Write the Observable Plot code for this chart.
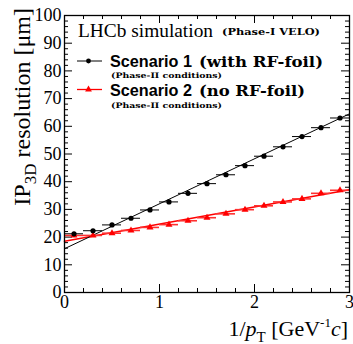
<!DOCTYPE html>
<html><head><meta charset="utf-8">
<script src="https://cdn.jsdelivr.net/npm/d3@7"></script>
<script src="https://cdn.jsdelivr.net/npm/@observablehq/plot@0.6"></script>
<style>html,body{margin:0;padding:0;background:#fff;} #chart{width:353px;height:344px;overflow:hidden;}</style>
</head><body><div id="chart"></div>
<script>
// ---- data ----
const invPt = [0.1, 0.3, 0.5, 0.7, 0.9, 1.1, 1.3, 1.5, 1.7, 1.9, 2.1, 2.3, 2.5, 2.7, 2.9];
const binHalfWidth = 0.1;
const scenario1 = [21.2, 22.3, 24.4, 26.8, 29.8, 32.7, 35.8, 39.3, 42.5, 45.8, 49.2, 52.6, 56.3, 59.5, 63.0];
const scenario2 = [20.6, 20.6, 21.4, 22.4, 23.5, 24.5, 25.9, 27.0, 28.4, 29.9, 31.3, 32.7, 33.8, 35.8, 36.9];
const err1 = [0.3, 0.3, 0.3, 0.3, 0.3, 0.3, 0.3, 0.3, 0.3, 0.3, 0.3, 0.3, 0.3, 0.3, 0.3];
const err2 = [0.3, 0.3, 0.3, 0.3, 0.3, 0.3, 0.3, 0.3, 0.3, 0.3, 0.3, 0.3, 0.3, 0.3, 0.3];
const fitX = [0, 3];
const fit1 = [15.8, 64.5];
const fit2 = [18.5, 37.1];
const xMajorTicks = [0, 1, 2, 3];
const yMajorTicks = [0, 10, 20, 30, 40, 50, 60, 70, 80, 90, 100];
const xMinorTicks = d3.range(0, 3.001, 0.2).map(v => +v.toFixed(1)).filter(v => !xMajorTicks.includes(v));
const yMinorTicks = d3.range(0, 100.1, 2).filter(v => !yMajorTicks.includes(v));

const s1 = invPt.map((x, i) => ({x, y: scenario1[i], e: err1[i]}));
const s2 = invPt.map((x, i) => ({x, y: scenario2[i], e: err2[i]}));
const f1 = fitX.map((x, i) => ({x, y: fit1[i]}));
const f2 = fitX.map((x, i) => ({x, y: fit2[i]}));

const W = 353, H = 344, mL = 64, mR = 4, mT = 15, mB = 52;
const fH = H - mT - mB, fW = W - mL - mR;
const serif = "Liberation Serif, Times New Roman, serif";
const majL = 8, minL = 4;

const plot = Plot.plot({
  width: W, height: H,
  marginLeft: mL, marginRight: mR, marginTop: mT, marginBottom: mB,
  style: {background: "#fff", fontFamily: serif, color: "#000"},
  x: {domain: [0, 3]},
  y: {domain: [0, 100]},
  marks: [
    Plot.axisX({ticks: xMajorTicks, tickSize: 0, tickPadding: 3, fontSize: 18, fontFamily: serif, label: null, tickFormat: d => String(d)}),
    Plot.axisY({ticks: yMajorTicks, tickSize: 0, tickPadding: 3, fontSize: 18, fontFamily: serif, label: null, tickFormat: d => String(d)}),
    // inward ticks on all four sides
    Plot.tickX(xMajorTicks, {x: d => d, insetTop: fH - majL, stroke: "#000"}),
    Plot.tickX(xMinorTicks, {x: d => d, insetTop: fH - minL, stroke: "#000"}),
    Plot.tickX(xMajorTicks, {x: d => d, insetBottom: fH - majL, stroke: "#000"}),
    Plot.tickX(xMinorTicks, {x: d => d, insetBottom: fH - minL, stroke: "#000"}),
    Plot.tickY(yMajorTicks, {y: d => d, insetRight: fW - majL, stroke: "#000"}),
    Plot.tickY(yMinorTicks, {y: d => d, insetRight: fW - minL, stroke: "#000"}),
    Plot.tickY(yMajorTicks, {y: d => d, insetLeft: fW - majL, stroke: "#000"}),
    Plot.tickY(yMinorTicks, {y: d => d, insetLeft: fW - minL, stroke: "#000"}),
    // fits
    Plot.line(f2, {x: "x", y: "y", stroke: "#ff0000", strokeWidth: 1.6}),
    Plot.line(f1, {x: "x", y: "y", stroke: "#000", strokeWidth: 1}),
    // error bars
    Plot.ruleY(s2, {y: "y", x1: d => d.x - binHalfWidth, x2: d => d.x + binHalfWidth, stroke: "#ff3030", strokeWidth: 1.6}),
    Plot.ruleX(s2, {x: "x", y1: d => d.y - d.e, y2: d => d.y + d.e, stroke: "#ff3030", strokeWidth: 1.2}),
    Plot.ruleY(s1, {y: "y", x1: d => d.x - binHalfWidth, x2: d => d.x + binHalfWidth, stroke: "#000", strokeWidth: 1}),
    Plot.ruleX(s1, {x: "x", y1: d => d.y - d.e, y2: d => d.y + d.e, stroke: "#000", strokeWidth: 1}),
    // markers
    Plot.dot(s2, {x: "x", y: "y", symbol: "triangle", r: 2.6, fill: "#ff0000", stroke: "none"}),
    Plot.dot(s1, {x: "x", y: "y", r: 2.6, fill: "#000", stroke: "none"}),
    Plot.frame({stroke: "#000", strokeWidth: 1.3})
  ]
});
document.getElementById("chart").appendChild(plot);

const svg = d3.select(plot);
// y-axis title
const yl = svg.append("text").attr("transform", "translate(30,8) rotate(-90)")
  .attr("text-anchor", "end").attr("font-family", serif).attr("font-size", 24).attr("fill", "#000");
yl.append("tspan").text("IP");
yl.append("tspan").attr("font-size", 17).attr("dy", 6).text("3D");
yl.append("tspan").attr("dy", -6).text(" resolution [μm]");

// x-axis title
const xl = svg.append("text").attr("x", 348).attr("y", 336)
  .attr("text-anchor", "end").attr("font-family", serif).attr("font-size", 22).attr("fill", "#000");
xl.append("tspan").text("1/");
xl.append("tspan").attr("font-style", "italic").text("p");
xl.append("tspan").attr("font-size", 15).attr("dy", 6).text("T");
xl.append("tspan").attr("dy", -6).text(" [GeV");
xl.append("tspan").attr("font-size", 13).attr("dy", -9).text("-1");
xl.append("tspan").attr("font-style", "italic").attr("dy", 9).text("c");
xl.append("tspan").text("]");

// legend / annotations
function txt(x, y, s, o) {
  const t = svg.append("text").attr("x", x).attr("y", y).attr("fill", "#000").attr("text-anchor", "start")
    .attr("font-family", o.family).attr("font-size", o.size).attr("font-weight", o.weight || "normal").text(s);
  if (o.len) t.attr("textLength", o.len).attr("lengthAdjust", "spacingAndGlyphs");
  return t;
}
const slab = "DejaVu Serif, serif";
const sans = "Liberation Sans, Arial, sans-serif";
txt(78, 37, "LHCb simulation", {family: serif, size: 19, len: 135});
txt(222, 35, "(Phase-I VELO)", {family: slab, size: 10, weight: "bold", len: 98});

// swatch 1
svg.append("line").attr("x1", 77).attr("x2", 102).attr("y1", 61).attr("y2", 61).attr("stroke", "#000").attr("stroke-width", 1);
svg.append("circle").attr("cx", 88.5).attr("cy", 61).attr("r", 2.4).attr("fill", "#000");
txt(110, 66.5, "Scenario 1", {family: sans, size: 17, weight: "bold", len: 82});
txt(199, 66.5, "(with RF-foil)", {family: slab, size: 15, weight: "bold", len: 124});
txt(111, 78, "(Phase-II conditions)", {family: slab, size: 7.5, weight: "bold", len: 111});

// swatch 2
svg.append("line").attr("x1", 77).attr("x2", 102).attr("y1", 89.5).attr("y2", 89.5).attr("stroke", "#ff0000").attr("stroke-width", 1.3);
svg.append("path").attr("d", d3.symbol(d3.symbolTriangle, 20)()).attr("transform", "translate(88.5,89.5)").attr("fill", "#ff0000");
txt(110, 95.5, "Scenario 2", {family: sans, size: 17, weight: "bold", len: 82});
txt(199, 95.5, "(no RF-foil)", {family: slab, size: 15, weight: "bold", len: 106});
txt(111, 108, "(Phase-II conditions)", {family: slab, size: 7.5, weight: "bold", len: 111});
</script>
</body></html>
